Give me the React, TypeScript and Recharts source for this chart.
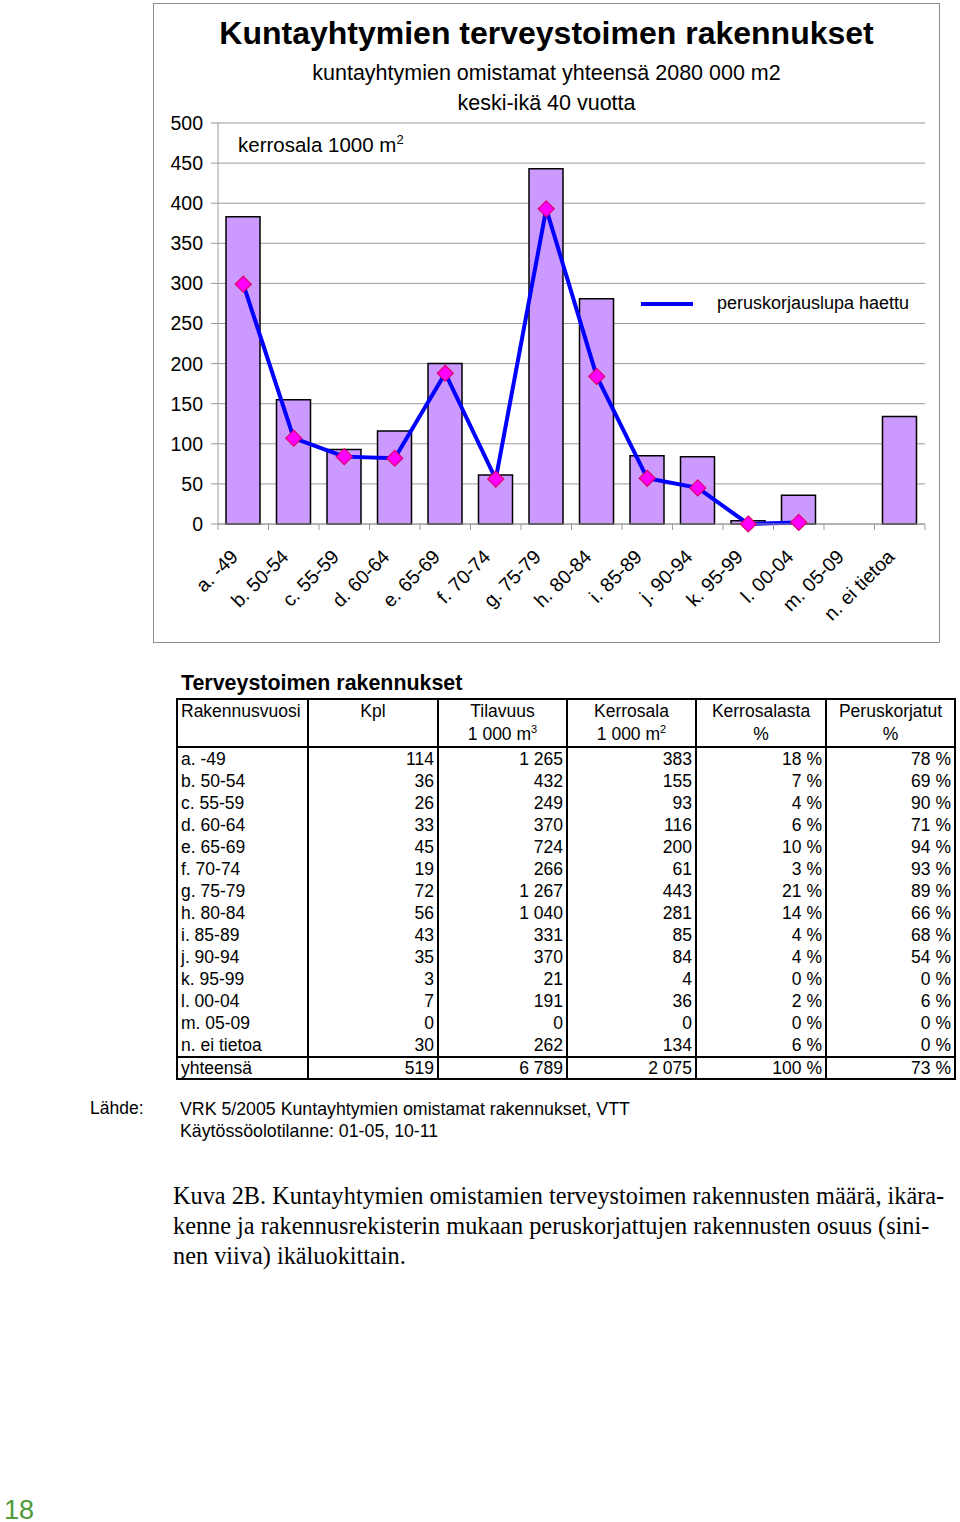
import React from 'react'
import { ComposedChart, Bar, Line, XAxis, YAxis, CartesianGrid } from 'recharts'

const categories = [
  'a. -49', 'b. 50-54', 'c. 55-59', 'd. 60-64', 'e. 65-69', 'f. 70-74', 'g. 75-79',
  'h. 80-84', 'i. 85-89', 'j. 90-94', 'k. 95-99', 'l. 00-04', 'm. 05-09', 'n. ei tietoa',
]
const kpl = [114, 36, 26, 33, 45, 19, 72, 56, 43, 35, 3, 7, 0, 30]
const tilavuus = [1265, 432, 249, 370, 724, 266, 1267, 1040, 331, 370, 21, 191, 0, 262]
const kerrosala = [383, 155, 93, 116, 200, 61, 443, 281, 85, 84, 4, 36, 0, 134]
const kerrosalastaPct = [18, 7, 4, 6, 10, 3, 21, 14, 4, 4, 0, 2, 0, 6]
const peruskorjatutPct = [78, 69, 90, 71, 94, 93, 89, 66, 68, 54, 0, 6, 0, 0]
// blue line
const peruskorjauslupa = [299, 107, 84, 82, 188, 56, 393, 184, 57, 45, 0, 2, null, null]
const totals = { kpl: 519, tilavuus: 6789, kerrosala: 2075, osuus: 100, korjatut: 73 }
const yTicks = [0, 50, 100, 150, 200, 250, 300, 350, 400, 450, 500]

const data = categories.map((c, i) => ({
  name: c,
  kerrosala: kerrosala[i],
  lupa: peruskorjauslupa[i],
}))

const CHART_W = 787
const CHART_H = 640
const M = { top: 120, right: 15, left: 0, bottom: 0 }
const Y_W = 65
const HALF_BAND = (CHART_W - Y_W - M.right) / categories.length / 2
const GRAY = '#9a9a9a'
const FONT = '"Liberation Sans", Arial, sans-serif'

const fmt = (n: number) => String(n).replace(/\B(?=(\d{3})+(?!\d))/g, ' ')

function XTick(props: any) {
  const { x, y, payload, index } = props
  const axisY = y - 8
  return (
    <g>
      <line x1={x - HALF_BAND} y1={axisY} x2={x - HALF_BAND} y2={axisY + 6} stroke={GRAY} />
      {index === categories.length - 1 && (
        <line x1={x + HALF_BAND} y1={axisY} x2={x + HALF_BAND} y2={axisY + 6} stroke={GRAY} />
      )}
      <text
        x={x - 4}
        y={axisY + 34}
        transform={`rotate(-45 ${x - 4} ${axisY + 34})`}
        textAnchor="end"
        fontSize={19.5}
        fontFamily={FONT}
        fill="#000"
      >
        {payload.value}
      </text>
    </g>
  )
}

function Diamond(props: any) {
  const { cx, cy, value } = props
  if (value == null || cx == null || cy == null) return null
  const r = 8
  return (
    <path
      d={`M${cx},${cy - r} L${cx + r},${cy} L${cx},${cy + r} L${cx - r},${cy} Z`}
      fill="#FF00FF"
      stroke="#E0006A"
      strokeWidth={1.2}
    />
  )
}

const cell: React.CSSProperties = {
  borderLeft: '2px solid #000',
  borderRight: '2px solid #000',
  padding: '0 3px',
  height: 22,
  lineHeight: '22px',
  whiteSpace: 'nowrap',
}
const num: React.CSSProperties = { ...cell, textAlign: 'right' }
const head: React.CSSProperties = { ...cell, textAlign: 'center', height: 23, lineHeight: '23px' }
const sup: React.CSSProperties = { fontSize: 11, lineHeight: 0 }
const totCell: React.CSSProperties = { ...cell, height: 20, lineHeight: '20px' }
const totNum: React.CSSProperties = { ...totCell, textAlign: 'right' }
const colW = [131, 130, 129, 129, 130, 129]

export default function App() {
  return (
    <div style={{ position: 'absolute', left: 0, top: 0, width: 960, height: 1522, background: '#fff', fontFamily: FONT }}>
      <div
        style={{
          position: 'absolute', left: 153, top: 3, width: CHART_W, height: CHART_H,
          border: '1px solid #8c8c8c', boxSizing: 'border-box',
        }}
      >
        <div style={{ position: 'absolute', left: -1, top: -1 }}>
          <ComposedChart width={CHART_W} height={CHART_H} data={data} margin={M}>
            <CartesianGrid vertical={false} horizontal stroke={GRAY} />
            <XAxis
              dataKey="name"
              interval={0}
              height={119}
              tick={<XTick />}
              tickLine={false}
              axisLine={{ stroke: GRAY }}
            />
            <YAxis
              domain={[0, 500]}
              ticks={yTicks}
              width={Y_W}
              tickSize={7}
              tickMargin={8}
              tickLine={{ stroke: GRAY }}
              axisLine={{ stroke: GRAY }}
              tick={{ fontSize: 19.5, fill: '#000', fontFamily: FONT }}
            />
            <YAxis yAxisId="r" orientation="right" width={0} tick={false} tickLine={false} axisLine={{ stroke: GRAY }} />
            <Bar dataKey="kerrosala" fill="#CC99FF" stroke="#000" strokeWidth={1.5} barSize={34} isAnimationActive={false} />
            <Line
              dataKey="lupa"
              stroke="#0000FF"
              strokeWidth={4}
              dot={<Diamond />}
              activeDot={false}
              isAnimationActive={false}
            />
          </ComposedChart>
        </div>
        <div style={{ position: 'absolute', left: 0, width: '100%', top: 11, textAlign: 'center', fontSize: 32, fontWeight: 'bold' }}>
          Kuntayhtymien terveystoimen rakennukset
        </div>
        <div style={{ position: 'absolute', left: 0, width: '100%', top: 57, textAlign: 'center', fontSize: 21.5 }}>
          kuntayhtymien omistamat yhteensä 2080 000 m2
        </div>
        <div style={{ position: 'absolute', left: 0, width: '100%', top: 87, textAlign: 'center', fontSize: 21.5 }}>
          keski-ikä 40 vuotta
        </div>
        <div style={{ position: 'absolute', left: 84, top: 128, fontSize: 20.5 }}>
          kerrosala 1000 m<sup style={{ fontSize: 13 }}>2</sup>
        </div>
        <div style={{ position: 'absolute', left: 487, top: 289, display: 'flex', alignItems: 'center', fontSize: 18 }}>
          <div style={{ width: 52, height: 4, background: '#0000FF', marginRight: 24 }} />
          <span>peruskorjauslupa haettu</span>
        </div>
      </div>

      <div style={{ position: 'absolute', left: 181, top: 671, fontSize: 21.4, fontWeight: 'bold' }}>
        Terveystoimen rakennukset
      </div>
      <table
        style={{
          position: 'absolute', left: 176, top: 698, borderCollapse: 'collapse',
          border: '2px solid #000', fontSize: 17.5, tableLayout: 'fixed',
        }}
      >
        <colgroup>
          {colW.map((w, i) => <col key={i} style={{ width: w }} />)}
        </colgroup>
        <tbody>
          <tr>
            <td style={{ ...head, textAlign: 'left' }}>Rakennusvuosi</td>
            <td style={head}>Kpl</td>
            <td style={head}>Tilavuus</td>
            <td style={head}>Kerrosala</td>
            <td style={head}>Kerrosalasta</td>
            <td style={head}>Peruskorjatut</td>
          </tr>
          <tr style={{ borderBottom: '2px solid #000' }}>
            <td style={head}></td>
            <td style={head}></td>
            <td style={head}>1 000 m<sup style={sup}>3</sup></td>
            <td style={head}>1 000 m<sup style={sup}>2</sup></td>
            <td style={head}>%</td>
            <td style={head}>%</td>
          </tr>
          {categories.map((c, i) => (
            <tr key={c}>
              <td style={cell}>{c}</td>
              <td style={num}>{kpl[i]}</td>
              <td style={num}>{fmt(tilavuus[i])}</td>
              <td style={num}>{kerrosala[i]}</td>
              <td style={num}>{kerrosalastaPct[i]} %</td>
              <td style={num}>{peruskorjatutPct[i]} %</td>
            </tr>
          ))}
          <tr style={{ borderTop: '2px solid #000' }}>
            <td style={totCell}>yhteensä</td>
            <td style={totNum}>{totals.kpl}</td>
            <td style={totNum}>{fmt(totals.tilavuus)}</td>
            <td style={totNum}>{fmt(totals.kerrosala)}</td>
            <td style={totNum}>{totals.osuus} %</td>
            <td style={totNum}>{totals.korjatut} %</td>
          </tr>
        </tbody>
      </table>

      <div style={{ position: 'absolute', left: 90, top: 1098, fontSize: 17.5 }}>Lähde:</div>
      <div style={{ position: 'absolute', left: 180, top: 1098, fontSize: 17.75, lineHeight: '22px' }}>
        VRK 5/2005 Kuntayhtymien omistamat rakennukset, VTT<br />
        Käytössöolotilanne: 01-05, 10-11
      </div>

      <div
        style={{
          position: 'absolute', left: 173, top: 1181, fontSize: 24.3, lineHeight: '30px',
          fontFamily: '"Liberation Serif", "Times New Roman", serif', whiteSpace: 'nowrap',
        }}
      >
        Kuva 2B. Kuntayhtymien omistamien terveystoimen rakennusten määrä, ikära-<br />
        kenne ja rakennusrekisterin mukaan peruskorjattujen rakennusten osuus (sini-<br />
        nen viiva) ikäluokittain.
      </div>

      <div style={{ position: 'absolute', left: 4, top: 1495, fontSize: 27, color: '#4f9a3a' }}>18</div>
    </div>
  )
}
